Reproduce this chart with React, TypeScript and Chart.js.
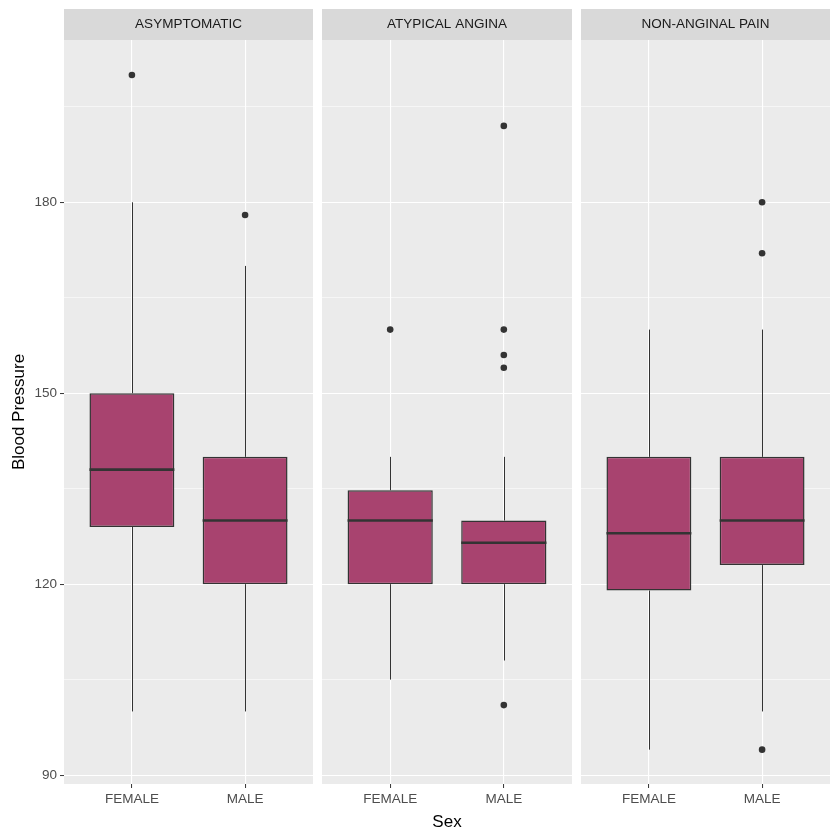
import React, { useEffect, useRef } from "react";
import { Chart, registerables } from "chart.js";

Chart.register(...registerables);

const panelNames = ["ASYMPTOMATIC", "ATYPICAL ANGINA", "NON-ANGINAL PAIN"];
const sexCategories = ["FEMALE", "MALE"];

// per panel: [FEMALE, MALE]
const whiskerLow = [[100, 100], [105, 108], [94, 100]];
const q1 = [[129, 120], [120, 120], [119, 123]];
const median = [[138, 130], [130, 126.5], [128, 130]];
const q3 = [[150, 140], [134.75, 130], [140, 140]];
const whiskerHigh = [[180, 170], [140, 140], [160, 160]];
const outliers = [
  [[200], [178]],
  [[160], [192, 160, 156, 154, 101]],
  [[], [180, 172, 94]],
];

const yTickValues = [90, 105, 120, 135, 150, 165, 180, 195];
const yMin = 88.6;
const yMax = 205.5;

const BOX_FILL = "#A8436F";
const DARK = "#333333";
const PANEL_BG = "#EBEBEB";
const STRIP_BG = "#D9D9D9";
const FONT = "'Liberation Sans', Arial, sans-serif";

const panelLayout = [
  { left: 0, width: 313, yAxis: true, xTitle: false },
  { left: 322, width: 250, yAxis: false, xTitle: true },
  { left: 581, width: 249, yAxis: false, xTitle: false },
];

function makePlugin(p: number) {
  return {
    id: "boxPanel" + p,
    beforeDraw(chart: any) {
      const { ctx, chartArea } = chart;
      ctx.save();
      ctx.fillStyle = PANEL_BG;
      ctx.fillRect(chartArea.left, chartArea.top, chartArea.right - chartArea.left, chartArea.bottom - chartArea.top);
      // strip
      ctx.fillStyle = STRIP_BG;
      ctx.fillRect(chartArea.left, chartArea.top - 31, chartArea.right - chartArea.left, 31);
      ctx.fillStyle = "#1A1A1A";
      ctx.font = "13.5px " + FONT;
      ctx.textAlign = "center";
      ctx.textBaseline = "middle";
      ctx.fillText(panelNames[p], (chartArea.left + chartArea.right) / 2, chartArea.top - 15.5);
      ctx.restore();
    },
    beforeDatasetsDraw(chart: any) {
      const { ctx } = chart;
      const xs = chart.scales.x;
      const ys = chart.scales.y;
      ctx.save();
      ctx.strokeStyle = DARK;
      ctx.lineWidth = 1;
      for (let i = 0; i < sexCategories.length; i++) {
        const x = Math.round(xs.getPixelForValue(i + 1)) + 0.5;
        ctx.beginPath();
        ctx.moveTo(x, ys.getPixelForValue(whiskerLow[p][i]));
        ctx.lineTo(x, ys.getPixelForValue(q1[p][i]));
        ctx.moveTo(x, ys.getPixelForValue(q3[p][i]));
        ctx.lineTo(x, ys.getPixelForValue(whiskerHigh[p][i]));
        ctx.stroke();
      }
      ctx.restore();
    },
    afterDatasetsDraw(chart: any) {
      const { ctx } = chart;
      const ys = chart.scales.y;
      const meta = chart.getDatasetMeta(0);
      ctx.save();
      ctx.strokeStyle = DARK;
      ctx.lineWidth = 2.6;
      for (let i = 0; i < sexCategories.length; i++) {
        const el: any = meta.data[i];
        const w = el.width;
        const y = ys.getPixelForValue(median[p][i]);
        ctx.beginPath();
        ctx.moveTo(el.x - w / 2, y);
        ctx.lineTo(el.x + w / 2, y);
        ctx.stroke();
      }
      ctx.restore();
    },
  };
}

function Panel({ p }: { p: number }) {
  const ref = useRef<HTMLCanvasElement>(null);
  useEffect(() => {
    const lay = panelLayout[p];
    const boxData = sexCategories.map((_, i) => ({ x: i + 1, y: [q1[p][i], q3[p][i]] }));
    const outData: any[] = [];
    sexCategories.forEach((_, i) => outliers[p][i].forEach((v) => outData.push({ x: i + 1, y: v })));
    const chart = new Chart(ref.current as HTMLCanvasElement, {
      type: "bar",
      data: {
        datasets: [
          {
            type: "bar",
            data: boxData as any,
            backgroundColor: BOX_FILL,
            borderColor: DARK,
            borderWidth: 1.5,
            borderSkipped: false,
            barPercentage: 0.75,
            categoryPercentage: 1,
            order: 2,
          } as any,
          {
            type: "scatter",
            data: outData,
            backgroundColor: DARK,
            borderColor: DARK,
            pointRadius: 3.3,
            borderWidth: 0,
            order: 1,
          } as any,
        ],
      },
      plugins: [makePlugin(p)],
      options: {
        animation: false,
        responsive: false,
        maintainAspectRatio: false,
        layout: { autoPadding: false, padding: { top: 40, left: 0, right: 0, bottom: 0 } },
        plugins: { legend: { display: false }, tooltip: { enabled: false } },
        scales: {
          x: {
            type: "linear",
            min: 0.4,
            max: 2.6,
            offset: false,
            afterBuildTicks: (s: any) => {
              s.ticks = sexCategories.map((_, i) => ({ value: i + 1 }));
            },
            afterFit: (s: any) => {
              s.height = 56;
            },
            ticks: {
              callback: (v: any) => sexCategories[Math.round(v) - 1] ?? "",
              color: "#4D4D4D",
              font: { family: FONT, size: 13.5 },
              padding: 3,
              maxRotation: 0,
              autoSkip: false,
            },
            grid: {
              color: "#FFFFFF",
              lineWidth: 1.1,
              offset: false,
              drawTicks: true,
              tickLength: 4,
              tickColor: DARK,
              tickWidth: 1,
            },
            border: { display: false },
            title: {
              display: true,
              text: "Sex",
              color: lay.xTitle ? "#000000" : "rgba(0,0,0,0)",
              font: { family: FONT, size: 17 },
              padding: { top: 0, bottom: 7 },
            },
          } as any,
          y: {
            type: "linear",
            min: yMin,
            max: yMax,
            afterBuildTicks: (s: any) => {
              s.ticks = yTickValues.map((v) => ({ value: v }));
            },
            afterFit: (s: any) => {
              s.width = lay.yAxis ? 64 : 0;
            },
            ticks: {
              display: lay.yAxis,
              callback: (v: any) => (v % 30 === 0 ? String(v) : ""),
              color: "#4D4D4D",
              font: { family: FONT, size: 13.5 },
              padding: 3,
            },
            grid: {
              color: "#FFFFFF",
              lineWidth: (c: any) => (c.tick && c.tick.value % 30 === 0 ? 1.1 : 0.55),
              drawTicks: lay.yAxis,
              tickLength: 4,
              tickColor: (c: any) => (c.tick && c.tick.value % 30 === 0 ? DARK : "rgba(0,0,0,0)"),
              tickWidth: 1,
            },
            border: { display: false },
            title: {
              display: lay.yAxis,
              text: "Blood Pressure",
              color: "#000000",
              font: { family: FONT, size: 17 },
              padding: { top: 9, bottom: 0 },
            },
          } as any,
        },
      },
    });
    return () => chart.destroy();
  }, [p]);
  const lay = panelLayout[p];
  return (
    <canvas
      ref={ref}
      width={lay.width}
      height={840}
      style={{ position: "absolute", left: lay.left, top: 0, width: lay.width, height: 840 }}
    />
  );
}

export default function App() {
  return (
    <div style={{ position: "fixed", left: 0, top: 0, width: 840, height: 840, background: "#FFFFFF" }}>
      {panelLayout.map((_, p) => (
        <Panel key={p} p={p} />
      ))}
    </div>
  );
}
